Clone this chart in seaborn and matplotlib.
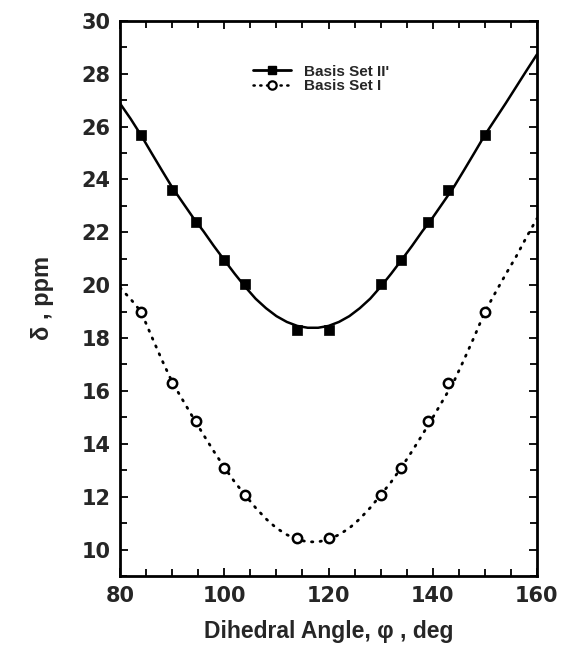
import matplotlib
matplotlib.use("Agg")
import matplotlib.pyplot as plt
from matplotlib.lines import Line2D
from matplotlib.ticker import MultipleLocator
import seaborn as sns
import pandas as pd

# calculated shifts (points)
angle = [84, 90, 94.5, 100, 104, 114, 120, 130, 134, 139, 143, 150]
shift_II = [25.7, 23.6, 22.4, 20.95, 20.05, 18.3, 18.3, 20.05, 20.95, 22.4, 23.6, 25.7]
shift_I = [19.0, 16.3, 14.85, 13.1, 12.05, 10.42, 10.42, 12.05, 13.1, 14.85, 16.3, 19.0]

# fitted curves, every 2 deg
fit_angle = list(range(80, 162, 2))
fit_II = [26.87, 26.30, 25.68, 25.01, 24.35, 23.70, 23.13, 22.56, 22.04, 21.48,
          20.95, 20.43, 19.94, 19.49, 19.13, 18.83, 18.61, 18.46, 18.39, 18.39,
          18.46, 18.61, 18.83, 19.13, 19.49, 19.94, 20.43, 20.95, 21.48, 22.04,
          22.56, 23.13, 23.70, 24.35, 25.01, 25.68, 26.28, 26.88, 27.50, 28.12, 28.73]
fit_I = [19.90, 19.48, 19.00, 18.08, 17.18, 16.33, 15.66, 14.99, 14.34, 13.71,
         13.11, 12.55, 12.06, 11.58, 11.16, 10.81, 10.56, 10.38, 10.29, 10.29,
         10.38, 10.56, 10.81, 11.16, 11.58, 12.06, 12.55, 13.11, 13.71, 14.34,
         14.99, 15.66, 16.33, 17.18, 18.06, 18.99, 19.71, 20.41, 21.08, 21.82, 22.52]

pts = pd.DataFrame({"angle": angle, "II": shift_II, "I": shift_I})
fit = pd.DataFrame({"angle": fit_angle, "II": fit_II, "I": fit_I})

sns.set_style("ticks")
plt.rcParams["font.family"] = ["Liberation Sans", "DejaVu Sans"]
plt.rcParams["font.weight"] = "bold"

fig = plt.figure(figsize=(5.64, 6.53), dpi=100)
ax = fig.add_axes([0.213, 0.118, 0.739, 0.85])

sns.lineplot(data=fit, x="angle", y="II", color="black", lw=1.8, ax=ax)
sns.lineplot(data=fit, x="angle", y="I", color="black", lw=2.0, ax=ax)
ax.lines[-1].set_linestyle((0, (0.5, 2.6)))
ax.lines[-1].set_dash_capstyle("round")
sns.scatterplot(data=pts, x="angle", y="II", marker="s", s=55, color="black", edgecolor="black",
                linewidth=0.5, ax=ax, zorder=3)
sns.scatterplot(data=pts, x="angle", y="I", marker="o", s=45, facecolor="white", edgecolor="black",
                linewidth=1.8, ax=ax, zorder=3)

ax.set_xlim(80, 160)
ax.set_ylim(9, 30)
ax.xaxis.set_major_locator(MultipleLocator(20))
ax.xaxis.set_minor_locator(MultipleLocator(5))
ax.yaxis.set_major_locator(MultipleLocator(2))
ax.yaxis.set_minor_locator(MultipleLocator(1))
ax.tick_params(which="both", direction="in", top=True, right=True, width=1.3, color="black")
ax.tick_params(which="major", length=6, labelsize=15, pad=7)
ax.tick_params(which="minor", length=5)
for lab in ax.get_xticklabels() + ax.get_yticklabels():
    lab.set_fontweight("bold")
    lab.set_family("DejaVu Sans")
for s in ax.spines.values():
    s.set_linewidth(2)
    s.set_color("black")

ax.set_xlabel("Dihedral Angle, φ , deg", fontsize=16.5, fontweight="bold", labelpad=10)
ax.set_ylabel("δ , ppm", fontsize=17, fontweight="bold", labelpad=20)

handles = [
    Line2D([], [], color="black", lw=2, marker="s", markersize=6),
    Line2D([], [], color="black", lw=1.8, ls=(0, (0.5, 2.2)), dash_capstyle="round", marker="o",
           markersize=6, markerfacecolor="white", markeredgewidth=1.6),
]
ax.legend(handles, ["Basis Set II'", "Basis Set I"], loc="center left",
          bbox_to_anchor=(0.424, 0.879), bbox_transform=fig.transFigure,
          frameon=False, prop={"size": 11, "weight": "bold"}, handlelength=2.5, labelspacing=0.05,
          handletextpad=0.85)

fig.savefig("out.png", dpi=100)
